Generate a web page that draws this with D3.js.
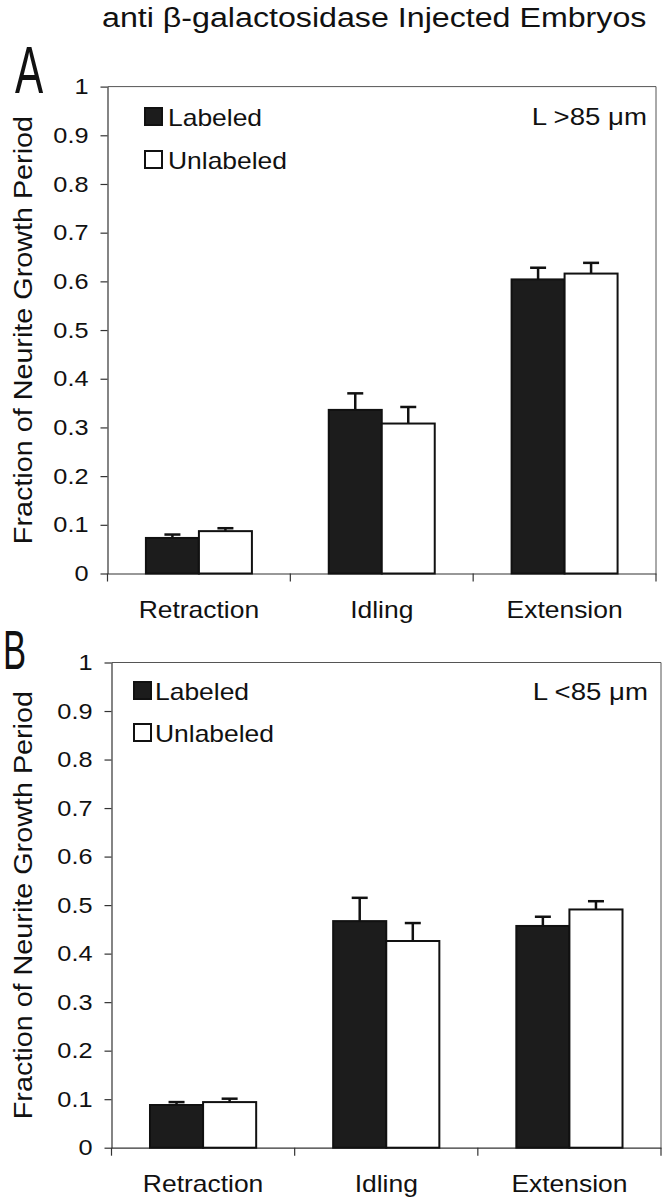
<!DOCTYPE html>
<html>
<head>
<meta charset="utf-8">
<script src="https://cdn.jsdelivr.net/npm/d3@7"></script>
<style>
  html, body { margin: 0; padding: 0; background: #fff; }
  svg { display: block; font-family: "Liberation Sans", Arial, Helvetica, sans-serif; }
</style>
</head>
<body>
<svg id="chart" width="664" height="1200"></svg>
<script>
// ---------------- data ----------------
const title = "anti \u03B2-galactosidase Injected Embryos";
const categories = ["Retraction", "Idling", "Extension"];
const seriesNames = ["Labeled", "Unlabeled"];
const yTickValues = [0, 0.1, 0.2, 0.3, 0.4, 0.5, 0.6, 0.7, 0.8, 0.9, 1];
const yTitle = "Fraction of Neurite Growth Period";

// Panel A (L > 85 µm)
const aLabeled = [0.073, 0.336, 0.604];
const aLabeledErr = [0.007, 0.034, 0.024];
const aUnlabeled = [0.087, 0.308, 0.616];
const aUnlabeledErr = [0.006, 0.034, 0.022];
const aNote = "L >85 \u03BCm";

// Panel B (L < 85 µm)
const bLabeled = [0.088, 0.467, 0.457];
const bLabeledErr = [0.006, 0.048, 0.019];
const bUnlabeled = [0.094, 0.426, 0.491];
const bUnlabeledErr = [0.007, 0.037, 0.017];
const bNote = "L <85 \u03BCm";

// ---------------- layout ----------------
const SX = 1.15; // horizontal stretch of the original lettering
const DARK = "#1c1c1c";

const svg = d3.select("#chart");

svg.append("text")
  .attr("transform", `translate(102,27) scale(${SX},1)`)
  .attr("font-size", 28)
  .attr("fill", "#111")
  .text(title);

const panels = [
  { letter: "A", letterX: 15, letterY: 92.7, letterSize: 66, letterSX: 0.64,
    left: 107.5, right: 656, top: 86.6, zero: 573.5,
    labeled: aLabeled, labeledErr: aLabeledErr, unlabeled: aUnlabeled, unlabeledErr: aUnlabeledErr,
    note: aNote, noteX: 647, noteY: 125,
    legSqX: 144, legTextX: 168, legBase: [126, 169] },
  { letter: "B", letterX: 3, letterY: 668.5, letterSize: 55, letterSX: 0.63,
    left: 111.5, right: 661, top: 662.5, zero: 1147.7,
    labeled: bLabeled, labeledErr: bLabeledErr, unlabeled: bUnlabeled, unlabeledErr: bUnlabeledErr,
    note: bNote, noteX: 648, noteY: 700,
    legSqX: 133, legTextX: 155, legBase: [700, 742] }
];

panels.forEach(p => {
  const g = svg.append("g");

  const y = d3.scaleLinear().domain([0, 1]).range([p.zero, p.top]);
  const x0 = d3.scaleBand().domain(categories).range([p.left, p.right]).padding(0);
  const x1 = d3.scaleBand().domain(seriesNames).range([0, x0.bandwidth()])
    .paddingInner(0).paddingOuter(0.725);

  // panel letter
  g.append("text")
    .attr("transform", `translate(${p.letterX},${p.letterY}) scale(${p.letterSX},1)`)
    .attr("font-size", p.letterSize)
    .attr("fill", "#111")
    .text(p.letter);

  // frame (top and right)
  g.append("path")
    .attr("d", `M${p.left},${p.top}H${p.right}V${p.zero}`)
    .attr("fill", "none").attr("stroke", "#555").attr("stroke-width", 1);

  // y axis
  const yAxis = g.append("g")
    .attr("transform", `translate(${p.left},0)`)
    .call(d3.axisLeft(y).tickValues(yTickValues).tickFormat(d3.format("~g")).tickSize(7).tickSizeOuter(0));
  yAxis.select(".domain").attr("stroke", "#333").attr("stroke-width", 1.2);
  yAxis.selectAll(".tick line").attr("stroke", "#333").attr("stroke-width", 1.2);
  yAxis.selectAll(".tick text")
    .attr("x", -19 / SX)
    .attr("transform", `scale(${SX},1)`)
    .attr("font-size", 22)
    .attr("font-family", "Liberation Sans, Arial, sans-serif")
    .attr("fill", "#111");

  // x axis (line + boundary ticks)
  const xAxis = g.append("g")
    .attr("transform", `translate(0,${p.zero})`)
    .call(d3.axisBottom(x0).tickSize(0).tickFormat(""));
  xAxis.select(".domain").attr("stroke", "#333").attr("stroke-width", 1.2);
  xAxis.selectAll(".tick").remove();
  const bounds = categories.map(c => x0(c)).concat([x0.range()[1]]);
  xAxis.selectAll("line.bt").data(bounds).join("line")
    .attr("class", "bt")
    .attr("x1", d => d).attr("x2", d => d)
    .attr("y1", 0).attr("y2", 8)
    .attr("stroke", "#333").attr("stroke-width", 1.2);

  // category labels
  g.selectAll("text.cat").data(categories).join("text")
    .attr("class", "cat")
    .attr("transform", d => `translate(${x0(d) + x0.bandwidth() / 2},${p.zero + 44}) scale(${SX},1)`)
    .attr("text-anchor", "middle")
    .attr("font-size", 23)
    .attr("fill", "#111")
    .text(d => d);

  // y title
  g.append("text")
    .attr("transform", `translate(32,${(p.top + p.zero) / 2}) rotate(-90) scale(${SX},1)`)
    .attr("text-anchor", "middle")
    .attr("font-size", 25)
    .attr("fill", "#111")
    .text(yTitle);

  // bars
  const rows = [];
  categories.forEach((c, i) => {
    rows.push({ cat: c, s: "Labeled", v: p.labeled[i], e: p.labeledErr[i] });
    rows.push({ cat: c, s: "Unlabeled", v: p.unlabeled[i], e: p.unlabeledErr[i] });
  });

  // error bars first (drawn behind the bar outline top)
  const eb = g.append("g");
  rows.forEach(r => {
    const cx = x0(r.cat) + x1(r.s) + x1.bandwidth() / 2;
    eb.append("line")
      .attr("x1", cx).attr("x2", cx)
      .attr("y1", y(r.v)).attr("y2", y(r.v + r.e))
      .attr("stroke", "#111").attr("stroke-width", 2.5);
    eb.append("line")
      .attr("x1", cx - 8).attr("x2", cx + 8)
      .attr("y1", y(r.v + r.e)).attr("y2", y(r.v + r.e))
      .attr("stroke", "#111").attr("stroke-width", 2.5);
  });

  g.selectAll("rect.bar").data(rows).join("rect")
    .attr("class", "bar")
    .attr("x", d => x0(d.cat) + x1(d.s))
    .attr("y", d => y(d.v))
    .attr("width", x1.bandwidth())
    .attr("height", d => y(0) - y(d.v))
    .attr("fill", d => d.s === "Labeled" ? DARK : "#fff")
    .attr("stroke", "#111")
    .attr("stroke-width", 2);

  // legend
  seriesNames.forEach((s, i) => {
    const base = p.legBase[i];
    g.append("rect")
      .attr("x", p.legSqX + 1).attr("y", base - 18)
      .attr("width", 17).attr("height", 17)
      .attr("fill", s === "Labeled" ? DARK : "#fff")
      .attr("stroke", "#111").attr("stroke-width", 2);
    g.append("text")
      .attr("transform", `translate(${p.legTextX},${base}) scale(${SX},1)`)
      .attr("font-size", 23)
      .attr("fill", "#111")
      .text(s);
  });

  // annotation
  g.append("text")
    .attr("transform", `translate(${p.noteX},${p.noteY}) scale(${SX},1)`)
    .attr("text-anchor", "end")
    .attr("font-size", 24)
    .attr("fill", "#111")
    .text(p.note);
});
</script>
</body>
</html>
